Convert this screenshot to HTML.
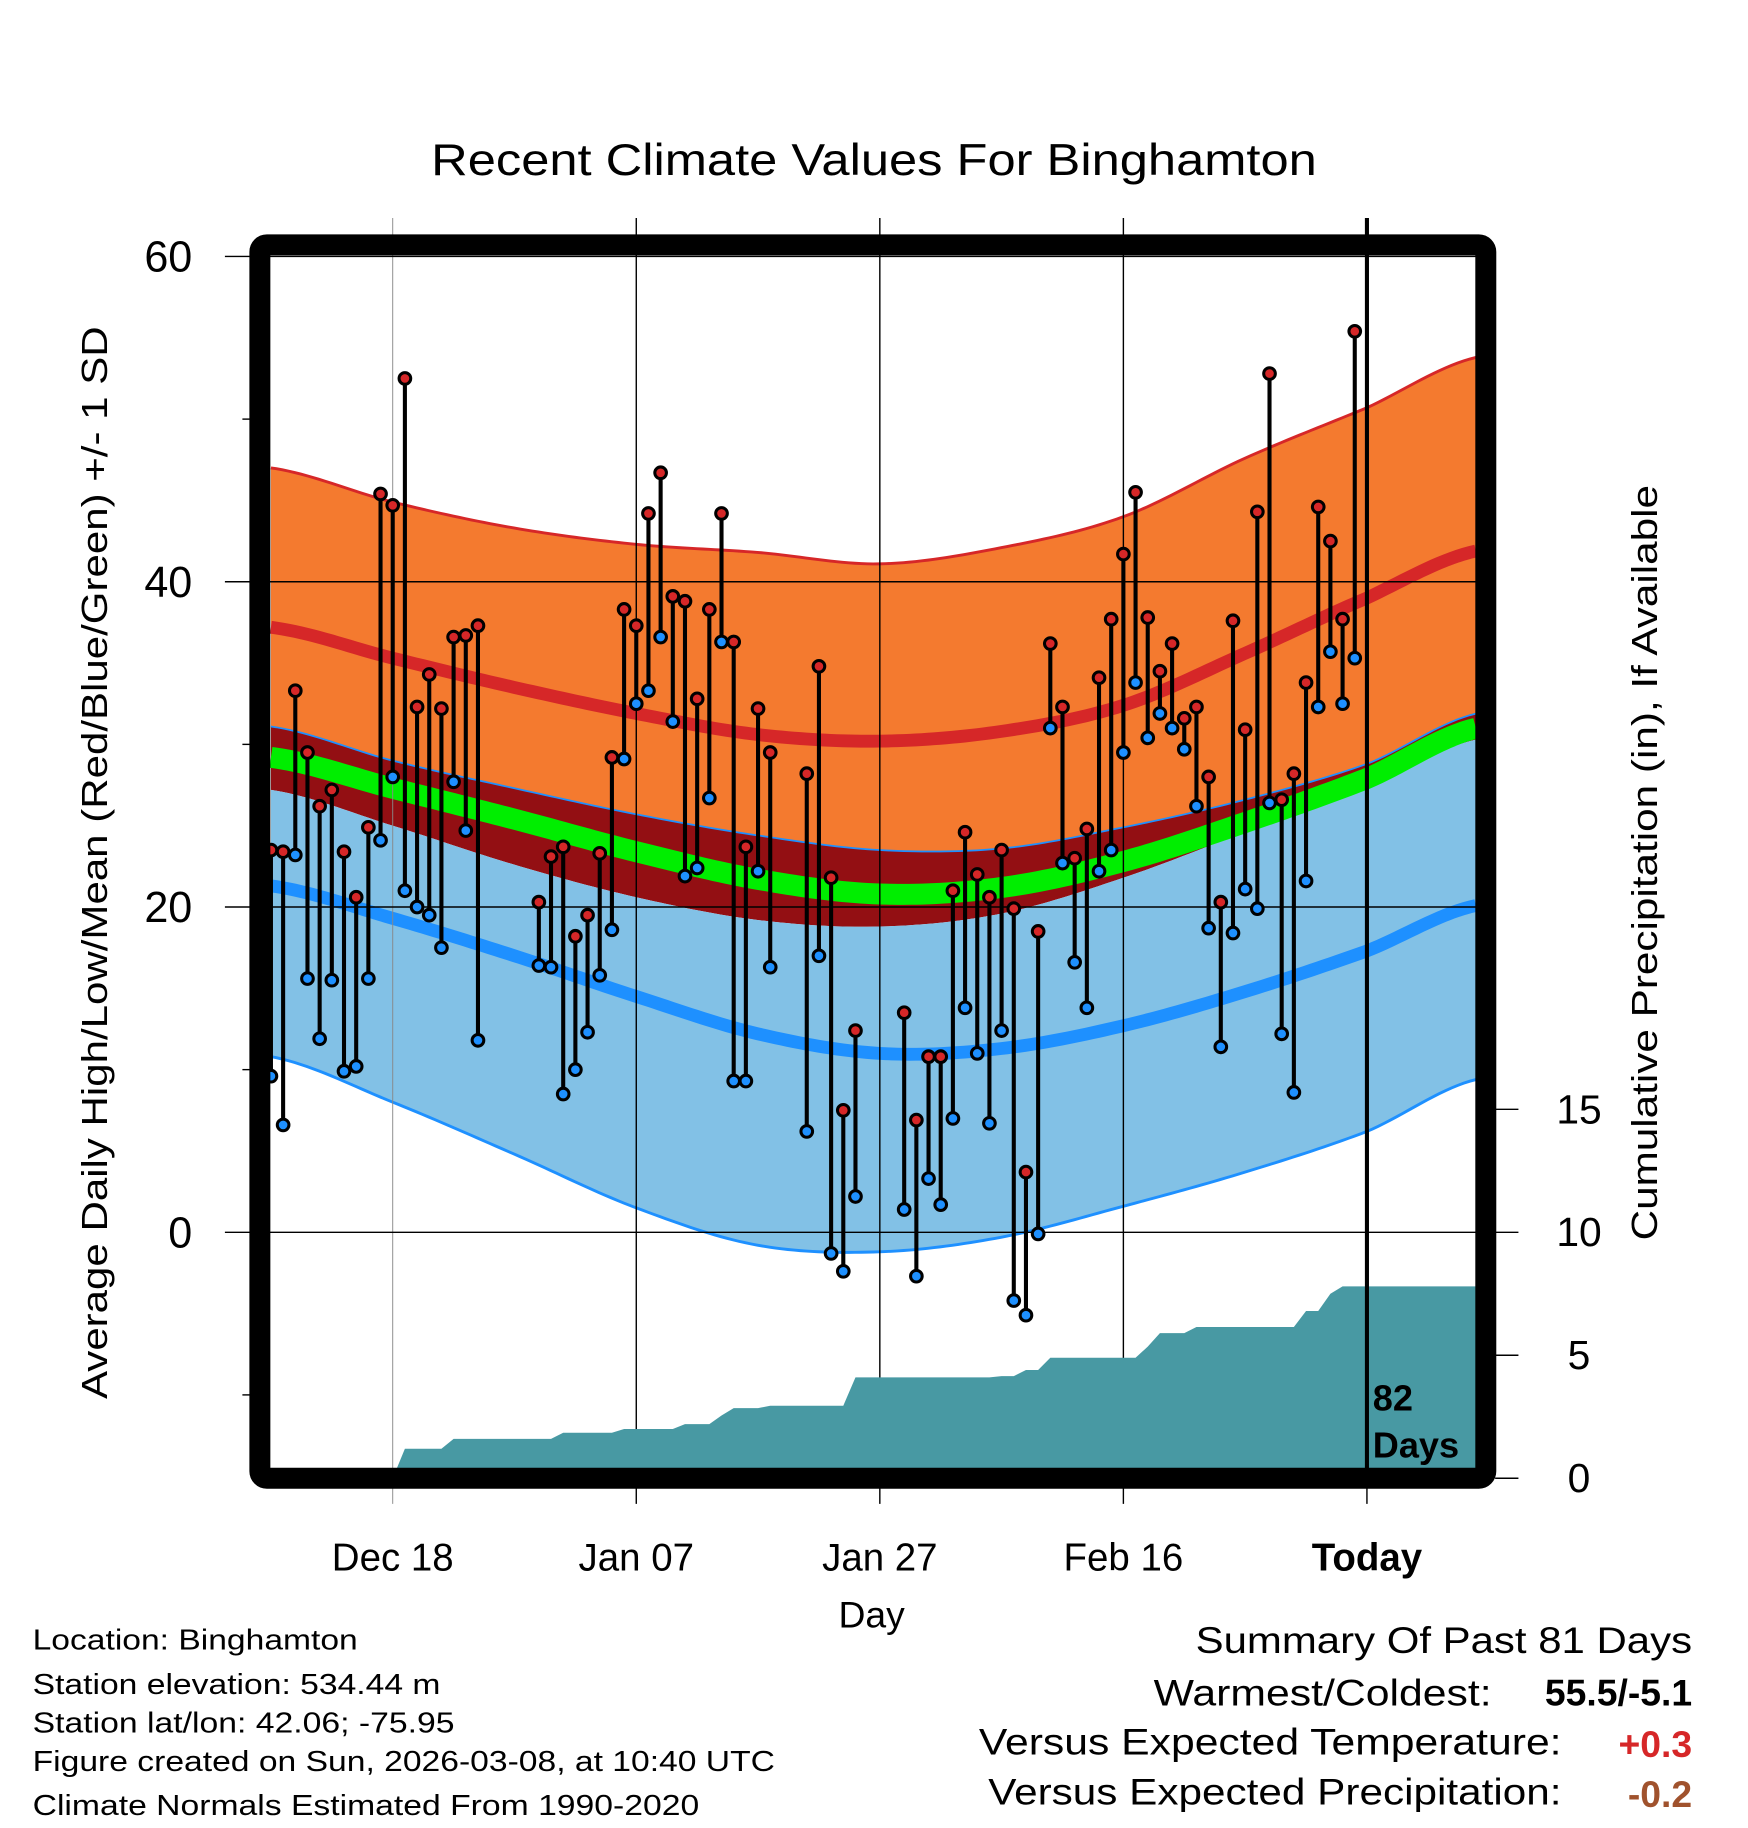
<!DOCTYPE html>
<html><head><meta charset="utf-8"><style>
html,body{margin:0;padding:0;background:#fff;}
svg{display:block;font-family:"Liberation Sans",Arial,sans-serif;}
</style></head><body>
<svg id="chart" width="1748" height="1828" viewBox="0 0 1500 1568" preserveAspectRatio="none" xmlns="http://www.w3.org/2000/svg">
<text x="750" y="150" font-size="38" text-anchor="middle" textLength="760" lengthAdjust="spacingAndGlyphs">Recent Climate Values For Binghamton</text>
<g id="bands"></g>
<g id="grid"></g>
<g id="precip"></g>
<g id="obs"></g>
<g id="frame"></g>
<text transform="translate(92,740) rotate(-90)" font-size="31" text-anchor="middle" textLength="920" lengthAdjust="spacingAndGlyphs">Average Daily High/Low/Mean (Red/Blue/Green) +/- 1 SD</text>
<text transform="translate(1422,740) rotate(-90)" font-size="31" text-anchor="middle" textLength="648" lengthAdjust="spacingAndGlyphs">Cumulative Precipitation (in), If Available</text>
<text x="748" y="1396" font-size="32" text-anchor="middle">Day</text>
<g font-size="25">
<text x="28" y="1415" textLength="279" lengthAdjust="spacingAndGlyphs">Location: Binghamton</text>
<text x="28" y="1453" textLength="350" lengthAdjust="spacingAndGlyphs">Station elevation: 534.44 m</text>
<text x="28" y="1486" textLength="362" lengthAdjust="spacingAndGlyphs">Station lat/lon: 42.06; -75.95</text>
<text x="28" y="1519" textLength="637" lengthAdjust="spacingAndGlyphs">Figure created on Sun, 2026-03-08, at 10:40 UTC</text>
<text x="28" y="1557" textLength="572" lengthAdjust="spacingAndGlyphs">Climate Normals Estimated From 1990-2020</text>
</g>
<g font-size="32">
<text x="1452" y="1418" text-anchor="end" textLength="426" lengthAdjust="spacingAndGlyphs">Summary Of Past 81 Days</text>
<text x="1280" y="1463" text-anchor="end" textLength="290" lengthAdjust="spacingAndGlyphs">Warmest/Coldest:</text>
<text x="1452" y="1463" text-anchor="end" font-weight="bold">55.5/-5.1</text>
<text x="1340" y="1505" text-anchor="end" textLength="500" lengthAdjust="spacingAndGlyphs">Versus Expected Temperature:</text>
<text x="1452" y="1507" text-anchor="end" font-weight="bold" fill="#d62728">+0.3</text>
<text x="1340" y="1548" text-anchor="end" textLength="492" lengthAdjust="spacingAndGlyphs">Versus Expected Precipitation:</text>
<text x="1452" y="1550" text-anchor="end" font-weight="bold" fill="#a0522d">-0.2</text>
</g>
</svg>
<script>
// Normals sampled every 10 days from Dec 8 (day 0) to day 99
const normDays = [0,10,20,30,40,50,60,70,80,90,99];
const hiUpper = [47.0,44.9,43.3,42.3,41.8,41.1,42.1,44.0,47.6,50.7,53.8];
const hiMean  = [37.2,35.3,33.5,31.9,30.6,30.2,30.8,32.4,35.6,39.0,41.9];
const hiLower = [31.1,29.0,27.3,25.7,24.4,23.5,23.6,24.9,26.6,28.8,31.9];
const avgMean = [29.2,27.3,25.4,23.4,21.7,20.8,21.2,22.8,25.2,27.9,31.0];
const loUpper = [27.2,25.0,22.6,20.6,19.2,18.8,19.6,21.8,24.6,27.4,30.3];
const loMean  = [21.3,19.3,17.0,14.5,12.2,11.0,11.3,12.7,14.8,17.3,20.1];
const loLower = [10.8,8.0,4.8,1.5,-0.8,-1.2,-0.3,1.6,3.7,6.2,9.4];
// Observations (day index from Dec 8)
const obsDays = [0,1,2,3,4,5,6,7,8,9,10,11,12,13,14,15,16,17,22,23,24,25,26,27,28,29,30,31,32,33,34,35,36,37,38,39,40,41,44,45,46,47,48,52,53,54,55,56,57,58,59,60,61,62,63,64,65,66,67,68,69,70,71,72,73,74,75,76,77,78,79,80,81,82,83,84,85,86,87,88,89];
const obsHigh = [23.5,23.4,33.3,29.5,26.2,27.2,23.4,20.6,24.9,45.4,44.7,52.5,32.3,34.3,32.2,36.6,36.7,37.3,20.3,23.1,23.7,18.2,19.5,23.3,29.2,38.3,37.3,44.2,46.7,39.1,38.8,32.8,38.3,44.2,36.3,23.7,32.2,29.5,28.2,34.8,21.8,7.5,12.4,13.5,6.9,10.8,10.8,21.0,24.6,22.0,20.6,23.5,19.9,3.7,18.5,36.2,32.3,23.0,24.8,34.1,37.7,41.7,45.5,37.8,34.5,36.2,31.6,32.3,28.0,20.3,37.6,30.9,44.3,52.8,26.6,28.2,33.8,44.6,42.5,37.7,55.4];
const obsLow  = [9.6,6.6,23.2,15.6,11.9,15.5,9.9,10.2,15.6,24.1,28.0,21.0,20.0,19.5,17.5,27.7,24.7,11.8,16.4,16.3,8.5,10.0,12.3,15.8,18.6,29.1,32.5,33.3,36.6,31.4,21.9,22.4,26.7,36.3,9.3,9.3,22.2,16.3,6.2,17.0,-1.3,-2.4,2.2,1.4,-2.7,3.3,1.7,7.0,13.8,11.0,6.7,12.4,-4.2,-5.1,-0.1,31.0,22.7,16.6,13.8,22.2,23.5,29.5,33.8,30.4,31.9,31.0,29.7,26.2,18.7,11.4,18.4,21.1,19.9,26.4,12.2,8.6,21.6,32.3,35.7,32.5,35.3];
// Cumulative precipitation steps (start day, inches)
const precipDays = [10,11,15,24,29,34,37,38,41,48,60,62,64,72,73,76,85,87,88,99];
const precipVals = [0,1.2,1.6,1.85,2.0,2.2,2.55,2.85,2.95,4.1,4.15,4.4,4.9,5.35,5.9,6.15,6.8,7.5,7.8,7.8];
const xTickLabels = ["Dec 18","Jan 07","Jan 27","Feb 16","Today"];
const xTickDays = [10,30,50,70,90];
const yTicks = [0,20,40,60];
const pTicks = [0,5,10,15];

const NS="http://www.w3.org/2000/svg";
const X0=232.5, DX=10.45;
const xs=d=>X0+DX*d;
const ys=v=>1057-13.95*v;
const yp=v=>1268-21.1*v;
const L=232, R=1267, T=219, B=1260;
function mk(parent,tag,attrs){const e=document.createElementNS(NS,tag);for(const k in attrs)e.setAttribute(k,attrs[k]);document.getElementById(parent).appendChild(e);return e;}
function interp(arr,d){for(let i=0;i<normDays.length-1;i++){if(d<=normDays[i+1]){const t=(d-normDays[i])/(normDays[i+1]-normDays[i]);
 const p0=arr[Math.max(i-1,0)],p1=arr[i],p2=arr[i+1],p3=arr[Math.min(i+2,arr.length-1)];
 return 0.5*((2*p1)+(-p0+p2)*t+(2*p0-5*p1+4*p2-p3)*t*t+(-p0+3*p1-3*p2+p3)*t*t*t);}}return arr[arr.length-1];}
function curve(arr){const pts=[];for(let d=-0.05;d<=99.1;d+=0.5){const dd=Math.min(Math.max(d,0),99);pts.push([xs(dd),ys(interp(arr,dd))]);}return pts;}
function bandPath(a,b){const p=curve(a),q=curve(b).reverse();return "M"+p.map(v=>v.join(",")).join("L")+"L"+q.map(v=>v.join(",")).join("L")+"Z";}
function linePath(a){return "M"+curve(a).map(v=>v.join(",")).join("L");}

let e;
e=mk("bands","path",{d:bandPath(hiUpper,hiLower),fill:"#f47a2f"});


e=mk("bands","path",{d:bandPath(hiLower,loUpper),fill:"#930f13"});


e=mk("bands","path",{d:bandPath(loUpper,loLower),fill:"#82c1e6"});


e=mk("bands","path",{d:linePath(hiUpper),fill:"none",stroke:"#d62728","stroke-width":2.5});


e=mk("bands","path",{d:linePath(hiLower),fill:"none",stroke:"#1e90ff","stroke-width":1.5});


e=mk("bands","path",{d:linePath(loLower),fill:"none",stroke:"#1e90ff","stroke-width":2.5});


e=mk("bands","path",{d:linePath(hiMean),fill:"none",stroke:"#d62728","stroke-width":11});


e=mk("bands","path",{d:linePath(avgMean),fill:"none",stroke:"#00ee00","stroke-width":18});


e=mk("bands","path",{d:linePath(loMean),fill:"none",stroke:"#1e90ff","stroke-width":11});



xTickDays.forEach((d,i)=>{
 const x=xs(d);
 e=mk("grid","line",{x1:x,x2:x,y1:187,y2:1290,stroke:i==0?"#888":"#000","stroke-width":i==0?0.8:1.2});
 
 
 e=mk("grid","text",{x:x,y:1347,"font-size":33,"text-anchor":"middle","font-weight":i==4?"bold":"normal"});
 e.textContent=xTickLabels[i];
 
 
});
yTicks.forEach(v=>{
 const y=ys(v);
 e=mk("grid","line",{x1:193,x2:R,y1:y,y2:y,stroke:"#000","stroke-width":1.2});
 
 
 e=mk("grid","text",{x:165,y:y+13,"font-size":37,"text-anchor":"end"});
 e.textContent=v;
 
 
});
[-10,10,30,50].forEach(v=>{
 e=mk("grid","line",{x1:208,x2:220,y1:ys(v),y2:ys(v),stroke:"#000","stroke-width":1.2});
 
 
});
pTicks.forEach(v=>{
 const y=yp(v);
 e=mk("grid","line",{x1:1283,x2:1303,y1:y,y2:y,stroke:"#000","stroke-width":1.2});
 
 
 e=mk("grid","text",{x:1355,y:y+12,"font-size":35,"text-anchor":"middle"});
 e.textContent=v;
 
 
});

let pd="M"+xs(precipDays[0])+","+yp(0);
for(let i=1;i<precipDays.length;i++){
 const x=xs(precipDays[i]);
 pd+="L"+(x-DX)+","+yp(precipVals[i-1])+"L"+x+","+yp(precipVals[i]);
}
pd+="L"+R+","+yp(precipVals[precipVals.length-1])+"L"+R+","+yp(0)+"Z";
e=mk("precip","path",{d:pd,fill:"#4899a3"});



obsDays.forEach((d,i)=>{
 const x=xs(d);
 e=mk("obs","line",{x1:x,x2:x,y1:ys(obsHigh[i]),y2:ys(obsLow[i]),stroke:"#000","stroke-width":3.5});
 
 
});
obsDays.forEach((d,i)=>{
 const x=xs(d);
 e=mk("obs","circle",{cx:x,cy:ys(obsHigh[i]),r:5,fill:"#d62728",stroke:"#000","stroke-width":2.6});
 
 
 e=mk("obs","circle",{cx:x,cy:ys(obsLow[i]),r:5,fill:"#1e90ff",stroke:"#000","stroke-width":2.6});
 
 
});

e=mk("frame","line",{x1:xs(90),x2:xs(90),y1:187,y2:B,stroke:"#000","stroke-width":3.5});


e=mk("frame","text",{x:1178,y:1210,"font-size":31,"font-weight":"bold"});
e.textContent="82";


e=mk("frame","text",{x:1178,y:1250,"font-size":31,"font-weight":"bold"});
e.textContent="Days";


e=mk("frame","rect",{x:223,y:210,width:1052,height:1058,rx:6,fill:"none",stroke:"#000","stroke-width":18});


</script>
</body></html>
